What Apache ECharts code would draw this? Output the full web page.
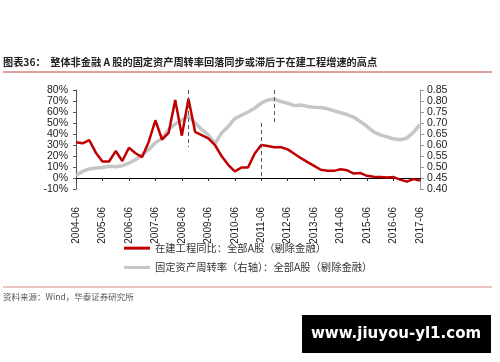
<!DOCTYPE html>
<html>
<head>
<meta charset="utf-8">
<script src="https://cdn.jsdelivr.net/npm/echarts@6/dist/echarts.min.js"></script>
<style>
html,body{margin:0;padding:0;background:#fff;}
#c{width:500px;height:362px;}
</style>
</head>
<body>
<div id="c"></div>
<script>
var categories = [
 '2004-06','2004-09','2004-12',
 '2005-03','2005-06','2005-09','2005-12',
 '2006-03','2006-06','2006-09','2006-12',
 '2007-03','2007-06','2007-09','2007-12',
 '2008-03','2008-06','2008-09','2008-12',
 '2009-03','2009-06','2009-09','2009-12',
 '2010-03','2010-06','2010-09','2010-12',
 '2011-03','2011-06','2011-09','2011-12',
 '2012-03','2012-06','2012-09','2012-12',
 '2013-03','2013-06','2013-09','2013-12',
 '2014-03','2014-06','2014-09','2014-12',
 '2015-03','2015-06','2015-09','2015-12',
 '2016-03','2016-06','2016-09','2016-12',
 '2017-03','2017-06'
];
// 在建工程同比 (%), left axis
var cipGrowth = [
 32.5,31.5,34.5,
 23,15,15,24.5,
 15.5,27.5,22.5,19,
 33,52.5,35,41,
 71,38.5,72,42,
 39,36,30,20,
 12,6,9.5,9.5,
 22,30,29,28,
 28,26,22,18,
 14.5,11,7.5,6.5,
 6.5,8,7,4,
 4.5,2,1.2,0.9,
 0.5,0.8,-1.5,-3.3,
 -1,-2.4
];
// 固定资产周转率, right axis
var faTurnover = [
 0.462,0.48,0.491,
 0.495,0.498,0.503,0.501,
 0.506,0.518,0.533,0.556,
 0.58,0.61,0.63,0.67,
 0.696,0.714,0.732,0.70,
 0.67,0.646,0.606,0.654,
 0.684,0.72,0.735,0.75,
 0.767,0.79,0.805,0.808,
 0.797,0.79,0.779,0.782,
 0.775,0.772,0.77,0.765,
 0.755,0.747,0.738,0.726,
 0.706,0.684,0.66,0.646,
 0.637,0.628,0.624,0.631,
 0.657,0.692
];
var leftTicks = {min:-10, max:80, interval:10};
var rightTicks = {min:0.40, max:0.85, interval:0.05};
var seriesNames = ['在建工程同比：全部A股（剔除金融）','固定资产周转率（右轴）：全部A股（剔除金融）'];
// dashed marker positions [category, from, to]
var markRed = [['2008-09',80,28],['2011-06',50,0]];
var markGray = [['2011-12',0.85,0.70]];

var chart = echarts.init(document.getElementById('c'), null, {renderer:'canvas'});
var numFont = 'Liberation Sans';
var cjkFont = 'Noto Sans CJK SC';
function ml(arr){
  return arr.map(function(m){return [{coord:[m[0],m[1]]},{coord:[m[0],m[2]]}];});
}
var option = {
  animation:false,
  backgroundColor:'#fff',
  title:{
    text:'图表36：  整体非金融 A 股的固定资产周转率回落同步或滞后于在建工程增速的高点',
    left:3, top:57, padding:0,
    textStyle:{fontSize:10.2,fontWeight:'bold',color:'#222',fontFamily:cjkFont}
  },
  graphic:[
    {type:'line',shape:{x1:3,y1:72,x2:492,y2:72},style:{stroke:'#b8453e',lineWidth:1}},
    {type:'line',shape:{x1:3,y1:287,x2:492,y2:287},style:{stroke:'#d98a84',lineWidth:1}},
    {type:'text',left:3,top:293,style:{text:'资料来源：Wind，华泰证券研究所',fontSize:8.5,fill:'#555',fontFamily:cjkFont}},
    {type:'rect',shape:{x:302,y:315,width:189,height:38},style:{fill:'#000'}},
    {type:'text',x:396,y:334,style:{text:'www.jiuyou-yl1.com',fontSize:15,fontWeight:'bold',fill:'#fff',fontFamily:'DejaVu Sans',align:'center',verticalAlign:'middle'}}
  ],
  legend:{
    orient:'vertical',left:124,top:243,itemGap:9,padding:0,
    itemWidth:26,itemHeight:3,icon:'rect',
    textStyle:{fontSize:10.3,color:'#333',fontFamily:cjkFont},
    data:seriesNames
  },
  grid:{left:76,right:80,top:90,bottom:173,containLabel:false},
  xAxis:{
    type:'category',data:categories,boundaryGap:false,
    axisLine:{onZero:true,lineStyle:{color:'#000',width:1}},
    axisTick:{interval:3,length:3,inside:false,lineStyle:{color:'#333'}},
    axisLabel:{interval:3,rotate:90,margin:18,fontSize:10,color:'#222',fontFamily:numFont},
    splitLine:{show:false}
  },
  yAxis:[
    {type:'value',min:leftTicks.min,max:leftTicks.max,interval:leftTicks.interval,
     axisLine:{show:true,onZero:false,lineStyle:{color:'#555'}},
     axisTick:{show:true,length:3,lineStyle:{color:'#555'}},
     axisLabel:{formatter:'{value}%',fontSize:10.5,color:'#222',margin:8,fontFamily:numFont},
     splitLine:{show:false}},
    {type:'value',position:'right',min:rightTicks.min,max:rightTicks.max,interval:rightTicks.interval,
     axisLine:{show:true,onZero:false,lineStyle:{color:'#999'}},
     axisTick:{show:true,length:4,lineStyle:{color:'#999'}},
     axisLabel:{formatter:function(v){return v.toFixed(2);},fontSize:10.5,color:'#222',margin:7,fontFamily:numFont},
     splitLine:{show:false}}
  ],
  series:[
    {name:seriesNames[1],type:'line',yAxisIndex:1,data:faTurnover,showSymbol:false,symbol:'none',z:2,
     itemStyle:{color:'#c6c6c6'},lineStyle:{color:'#c6c6c6',width:3.5},
     markLine:{silent:true,symbol:'none',label:{show:false},lineStyle:{color:'#555',type:[4,3],width:1},data:ml(markGray)}},
    {name:seriesNames[0],type:'line',yAxisIndex:0,data:cipGrowth,showSymbol:false,symbol:'none',z:3,
     itemStyle:{color:'#c00000'},lineStyle:{color:'#c00000',width:2.5},
     markLine:{silent:true,symbol:'none',label:{show:false},lineStyle:{color:'#555',type:[4,3],width:1},data:ml(markRed)}}
  ]
};
chart.setOption(option);
</script>
</body>
</html>
